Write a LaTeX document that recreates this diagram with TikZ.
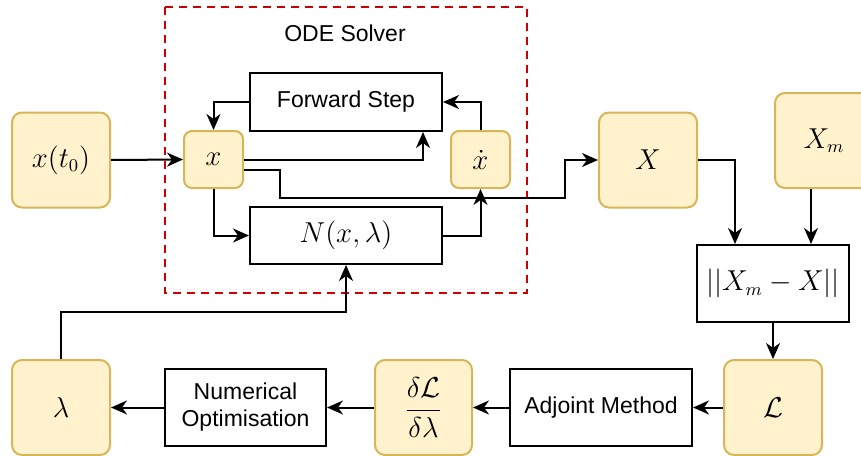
\documentclass[tikz,border=0pt]{standalone}
\usepackage{fontspec}
\setmainfont{Liberation Sans}
\usetikzlibrary{arrows.meta,calc}
\definecolor{noteFill}{HTML}{FFF2CC}
\definecolor{noteLine}{HTML}{D6B656}
\definecolor{solverRed}{HTML}{CC0000}
\begin{document}
\begin{tikzpicture}[x=0.5pt,y=-0.5pt,
  line width=1pt,
  >={Stealth[length=8pt,width=7pt,inset=2.5pt]},
  txt/.style={font=\fontsize{11.5}{13.5}\selectfont},
  mth/.style={font=\fontsize{13.5}{16}\selectfont},
  state/.style={draw=noteLine,fill=noteFill,rounded corners=5pt,
    minimum width=49pt,minimum height=47.5pt,inner sep=0pt,mth},
  small/.style={state,rounded corners=4pt,minimum width=29.5pt,minimum height=28.5pt},
  op/.style={draw=black,fill=white,inner sep=0pt,align=center,txt},
  link/.style={->,draw=black}
]
\useasboundingbox (0,0) rectangle (861,455);

% ODE solver frame
\draw[solverRed,dashed,line width=1pt,dash pattern=on 4pt off 3pt] (165,7) rectangle (527,293);
\node[txt] (odelabel) at (345,33) {ODE Solver};

% inputs and states
\node[state] (xt0) at (61,160) {$x(t_0)$};
\node[small] (xn) at (213.5,159.5) {$x$};
\node[small] (xdot) at (480.5,159.5) {$\dot{x}$};
\node[op,minimum width=96pt,minimum height=29pt] (fwd) at (346,102) {Forward Step};
\node[op,minimum width=96pt,minimum height=28.5pt,mth] (nnet) at (346,235.5) {$N(x,\lambda)$};

\node[state] (Xn) at (648,160) {$X$};
\node[state] (Xm) at (824,140.5) {$X_m$};
\node[op,minimum width=76pt,minimum height=38.5pt,mth] (norm) at (773,283.5) {$||X_m-X||$};
\node[state] (Ln) at (773,407.5) {$\mathcal{L}$};
\node[op,minimum width=91pt,minimum height=38.5pt] (adj) at (601,407.5) {Adjoint Method};
\node[state,minimum width=48.5pt] (dLdl) at (423.5,407.5) {$\displaystyle\frac{\delta\mathcal{L}}{\delta\lambda}$};
\node[op,minimum width=80.5pt,minimum height=38.5pt,text width=78pt] (numopt) at (245.5,407.5) {Numerical\\Optimisation};
\node[state] (lam) at (61,407.5) {$\lambda$};

% connectors inside the solver
\draw[link] (xt0.east) -- (xn.west);
\draw[link] (fwd.west) -| (xn.north);
\draw[link] (xn.east) -| ([xshift=38.5pt]fwd.south);
\draw[link] (xn.south) |- (nnet.west);
\draw[link] (xdot.north) |- (fwd.east);
\draw[link] ([yshift=-5pt]xn.east) -| (280,198) -| ([xshift=-16.5pt]Xn.west) -- (Xn.west);
\draw[link] (nnet.east) -| (xdot.south);
\draw[link] (lam.north) -- ++(0,-47) -| (nnet.south);

% loss and optimisation loop
\draw[link] (Xn.east) -| ([xshift=-19pt]norm.north);
\draw[link] ([xshift=-6.5pt]Xm.south) -- ([xshift=19pt]norm.north);
\draw[link] (norm.south) -- (Ln.north);
\draw[link] (Ln.west) -- (adj.east);
\draw[link] (adj.west) -- (dLdl.east);
\draw[link] (dLdl.west) -- (numopt.east);
\draw[link] (numopt.west) -- (lam.east);
\end{tikzpicture}
\end{document}
